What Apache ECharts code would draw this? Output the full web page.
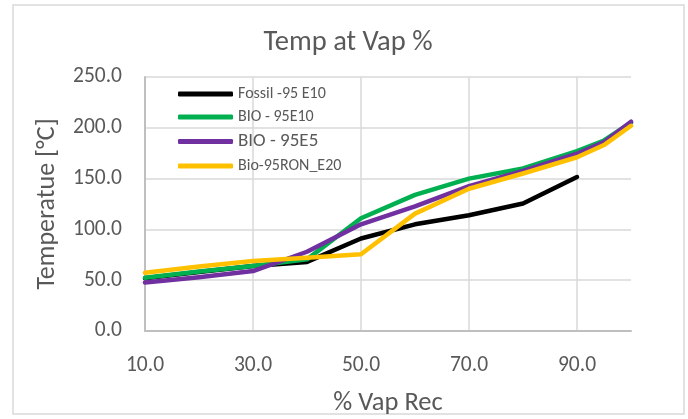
<!DOCTYPE html>
<html>
<head>
<meta charset="utf-8">
<script src="https://cdn.jsdelivr.net/npm/echarts@6/dist/echarts.min.js"></script>
<style>
  html, body { margin: 0; padding: 0; background: #ffffff; }
  #chart { width: 688px; height: 419px; }
</style>
</head>
<body>
<div id="chart"></div>
<script>
// % of volume recovered (x positions of the distillation points)
const vapRec = [10, 20, 30, 40, 50, 60, 70, 80, 90, 95, 100];

// Temperature [°C] at each recovered fraction
const fossil95E10 = [52, 58, 64, 68, 91, 105, 114, 125.5, 151.6, null, null];
const bio95E10    = [52.5, 58.5, 64, 70.5, 111, 134, 150, 160, 177, 187.5, 205];
const bio95E5     = [47.7, 53, 59, 78, 105, 122.7, 142.5, 157.5, 174.5, 186, 206];
const bio95RonE20 = [57.3, 63.5, 68.8, 72.2, 75.5, 115.5, 140, 155, 171, 183, 202];

const seriesNames = ['Fossil -95 E10', 'BIO - 95E10', 'BIO - 95E5', 'Bio-95RON_E20'];
const seriesColors = ['#000000', '#00B050', '#7030A0', '#FFC000'];
const seriesValues = [fossil95E10, bio95E10, bio95E5, bio95RonE20];

// x ticks 10.0 ... 90.0, y ticks 0.0 ... 250.0
const xTicks = [10, 30, 50, 70, 90];
const yTicks = [0, 50, 100, 150, 200, 250];

const FONT = 'Carlito, Calibri, Lato, sans-serif';
const TEXT = '#595959';

function pairs(values) {
  const out = [];
  vapRec.forEach((x, i) => {
    if (values[i] !== null && values[i] !== undefined) out.push([x, values[i]]);
  });
  return out;
}

const chart = echarts.init(document.getElementById('chart'), null, { renderer: 'canvas' });

chart.setOption({
  animation: false,
  backgroundColor: '#ffffff',
  textStyle: { fontFamily: FONT },
  title: {
    text: 'Temp at Vap %',
    left: 348,
    textAlign: 'center',
    top: 28,
    padding: 0,
    textStyle: { fontFamily: FONT, fontSize: 28.5, fontWeight: 'normal', color: TEXT }
  },
  graphic: [{
    type: 'rect',
    silent: true,
    z: -1,
    shape: { x: 13, y: 5, width: 671, height: 409 },
    style: { fill: 'none', stroke: '#d9d9d9', lineWidth: 1.5 }
  }],
  legend: {
    orient: 'vertical',
    left: 178,
    top: 86,
    padding: 0,
    itemGap: 7,
    itemWidth: 55,
    itemHeight: 5,
    icon: 'roundRect',
    textStyle: { fontFamily: FONT, fontSize: 16, color: TEXT, lineHeight: 16 },
    data: seriesNames.map((name, i) => i === 2
      ? { name, textStyle: { fontSize: 19, lineHeight: 16 } }
      : { name })
  },
  grid: {
    left: 145,
    top: 77,
    width: 486,
    height: 254,
    containLabel: false,
    outerBoundsMode: 'none'
  },
  xAxis: {
    type: 'value',
    min: 10,
    max: 100,
    interval: 20,
    name: '% Vap Rec',
    nameLocation: 'middle',
    nameGap: 59,
    nameTextStyle: { fontFamily: FONT, fontSize: 26.5, color: TEXT },
    axisLine: { show: true, lineStyle: { color: '#bfbfbf', width: 2 } },
    axisTick: { show: false },
    axisLabel: {
      showMaxLabel: false,
      margin: 24,
      fontFamily: FONT,
      fontSize: 21.5,
      color: TEXT,
      formatter: v => (xTicks.indexOf(v) >= 0 ? v.toFixed(1) : '')
    },
    splitLine: { show: true, showMinLine: false, showMaxLine: false, lineStyle: { color: '#d9d9d9', width: 1.5 } }
  },
  yAxis: {
    type: 'value',
    min: 0,
    max: 250,
    interval: 50,
    name: 'Temperatue [°C]',
    nameLocation: 'middle',
    nameGap: 85,
    nameTextStyle: { fontFamily: FONT, fontSize: 26, color: TEXT },
    axisLine: { show: true, lineStyle: { color: '#bfbfbf', width: 2 } },
    axisTick: { show: false },
    axisLabel: {
      margin: 23,
      fontFamily: FONT,
      fontSize: 21.5,
      color: TEXT,
      formatter: v => (yTicks.indexOf(v) >= 0 ? v.toFixed(1) : '')
    },
    splitLine: { show: true, showMinLine: false, lineStyle: { color: '#d9d9d9', width: 1.5 } }
  },
  series: seriesNames.map((name, i) => ({
    name,
    type: 'line',
    data: pairs(seriesValues[i]),
    showSymbol: false,
    symbol: 'none',
    color: seriesColors[i],
    lineStyle: { color: seriesColors[i], width: 4.5, cap: 'round', join: 'round' },
    emphasis: { disabled: true }
  }))
});
</script>
</body>
</html>
